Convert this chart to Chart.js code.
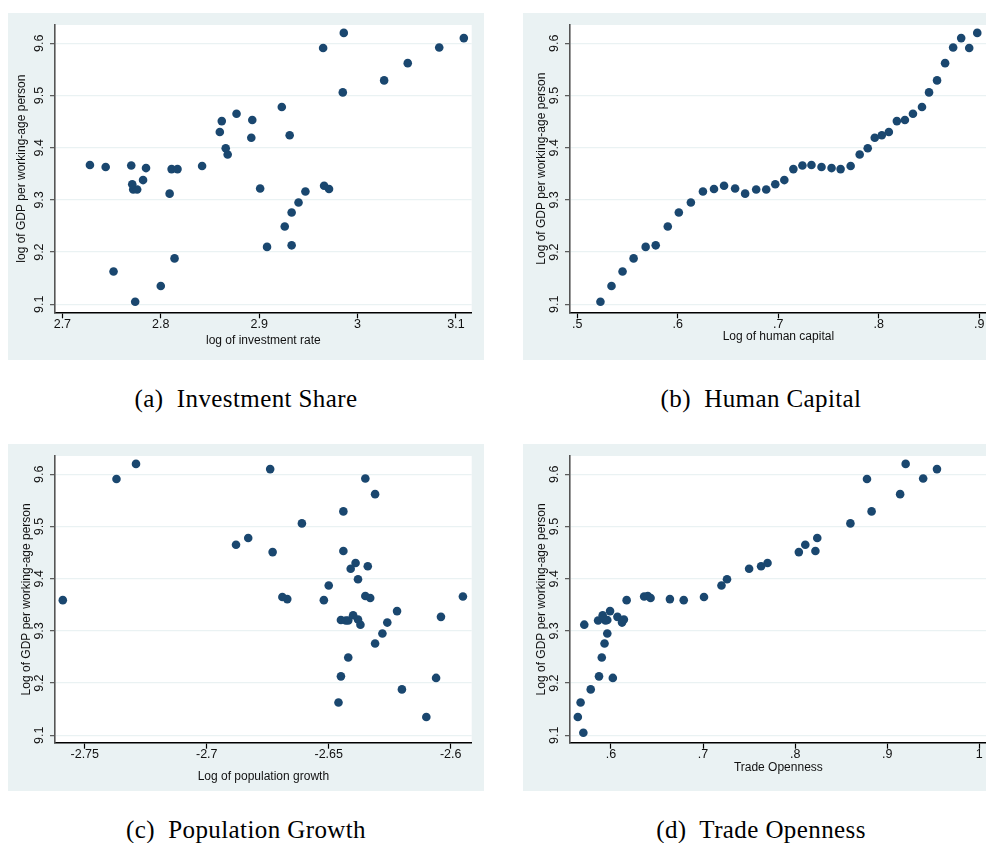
<!DOCTYPE html>
<html>
<head>
<meta charset="utf-8">
<title>GDP per working-age person</title>
<script src="https://cdn.jsdelivr.net/npm/chart.js@4.4.1/dist/chart.umd.min.js"></script>
<style>
    html, body {
        margin: 0;
        padding: 0;
        background: #ffffff;
        overflow: hidden;
    }
    #page {
        position: relative;
        width: 986px;
        height: 843px;
        overflow: hidden;
    }
    canvas {
        position: absolute;
    }
    .caption {
        position: absolute;
        width: 476px;
        text-align: center;
        font-family: 'Liberation Serif', 'Times New Roman', serif;
        font-size: 25px;
        line-height: 25px;
        letter-spacing: 0.4px;
        color: #000;
        white-space: pre;
    }
</style>
</head>
<body>
<div id="page">
    <canvas id="chartA" width="476" height="347" style="left:8px;top:13px"></canvas>
    <canvas id="chartB" width="476" height="347" style="left:523px;top:13px"></canvas>
    <canvas id="chartC" width="476" height="347" style="left:8px;top:444px"></canvas>
    <canvas id="chartD" width="476" height="347" style="left:523px;top:444px"></canvas>

    <div class="caption" style="left:8px;top:386px">(a)  Investment Share</div>
    <div class="caption" style="left:523px;top:386px">(b)  Human Capital</div>
    <div class="caption" style="left:8px;top:817px">(c)  Population Growth</div>
    <div class="caption" style="left:523px;top:817px">(d)  Trade Openness</div>
</div>

<script>
// ========================================
// Data (one point per year, same order in every panel)
// ========================================

// log of GDP per working-age person
const gdpLog = [9.105, 9.135, 9.163, 9.188, 9.210, 9.213, 9.249, 9.276, 9.295, 9.316,
    9.321, 9.327, 9.322, 9.312, 9.320, 9.320, 9.330, 9.338, 9.359, 9.366,
    9.367, 9.363, 9.361, 9.359, 9.365, 9.387, 9.399, 9.419, 9.424, 9.430,
    9.451, 9.453, 9.465, 9.478, 9.506, 9.529, 9.562, 9.592, 9.610, 9.591, 9.620];

// (a) log of investment rate
const investRate = [2.774, 2.800, 2.752, 2.814, 2.908, 2.933, 2.926, 2.933, 2.940, 2.947,
    2.971, 2.966, 2.901, 2.809, 2.772, 2.776, 2.771, 2.782, 2.811, 2.770,
    2.728, 2.744, 2.785, 2.817, 2.842, 2.868, 2.866, 2.892, 2.931, 2.860,
    2.862, 2.893, 2.877, 2.923, 2.985, 3.027, 3.051, 3.083, 3.108, 2.965, 2.986];

// (b) log of human capital
const humanCapital = [0.523, 0.534, 0.545, 0.556, 0.568, 0.578, 0.590, 0.601, 0.613, 0.625,
    0.636, 0.646, 0.657, 0.667, 0.678, 0.688, 0.697, 0.706, 0.715, 0.724,
    0.733, 0.743, 0.753, 0.762, 0.772, 0.781, 0.789, 0.796, 0.803, 0.810,
    0.818, 0.826, 0.834, 0.843, 0.850, 0.858, 0.866, 0.874, 0.882, 0.890, 0.898];

// (c) log of population growth (first year not shown)
const popGrowth = [null, -2.610, -2.646, -2.620, -2.606, -2.645, -2.642, -2.631, -2.628, -2.626,
    -2.645, -2.604, -2.638, -2.637, -2.643, -2.642, -2.640, -2.622, -2.652, -2.595,
    -2.635, -2.633, -2.667, -2.759, -2.669, -2.650, -2.638, -2.641, -2.634, -2.639,
    -2.673, -2.644, -2.688, -2.683, -2.661, -2.644, -2.631, -2.635, -2.674, -2.737, -2.729];

// (d) trade openness
const tradeOpen = [0.570, 0.564, 0.567, 0.578, 0.602, 0.587, 0.590, 0.593, 0.596, 0.612,
    0.596, 0.607, 0.614, 0.571, 0.594, 0.586, 0.591, 0.599, 0.617, 0.636,
    0.640, 0.643, 0.664, 0.679, 0.701, 0.720, 0.726, 0.750, 0.763, 0.770,
    0.804, 0.822, 0.811, 0.824, 0.860, 0.883, 0.914, 0.939, 0.954, 0.878, 0.920];

// Tick values and labels
const gdpTicks = [9.1, 9.2, 9.3, 9.4, 9.5, 9.6];
const gdpTickLabels = ['9.1', '9.2', '9.3', '9.4', '9.5', '9.6'];
const investTicks = [2.7, 2.8, 2.9, 3, 3.1];
const investTickLabels = ['2.7', '2.8', '2.9', '3', '3.1'];
const humanTicks = [0.5, 0.6, 0.7, 0.8, 0.9];
const humanTickLabels = ['.5', '.6', '.7', '.8', '.9'];
const popTicks = [-2.75, -2.7, -2.65, -2.6];
const popTickLabels = ['-2.75', '-2.7', '-2.65', '-2.6'];
const tradeTicks = [0.6, 0.7, 0.8, 0.9, 1];
const tradeTickLabels = ['.6', '.7', '.8', '.9', '1'];

// ========================================
// Look
// ========================================
const BG = '#eaf2f3';
const NAVY = '#1a476f';
const SANS = "'Liberation Sans', Arial, Helvetica, sans-serif";

Chart.defaults.font.family = SANS;
Chart.defaults.color = '#111';

// Stata-like panel: bluish-gray background, white plot region, rotated y labels
const stataLook = {
    id: 'stataLook',
    beforeDraw(chart) {
        const { ctx, chartArea } = chart;
        ctx.save();
        ctx.fillStyle = BG;
        ctx.fillRect(0, 0, chart.width, chart.height);
        ctx.fillStyle = '#ffffff';
        ctx.fillRect(chartArea.left, chartArea.top,
            chartArea.right - chartArea.left, chartArea.bottom - chartArea.top);
        ctx.restore();
    },
    afterDraw(chart) {
        const { ctx } = chart;
        const yScale = chart.scales.y;
        ctx.save();
        ctx.fillStyle = '#111';
        ctx.font = '12.5px ' + SANS;
        ctx.textAlign = 'center';
        ctx.textBaseline = 'middle';
        yScale.ticks.forEach((tick, i) => {
            ctx.save();
            ctx.translate(32, yScale.getPixelForValue(tick.value));
            ctx.rotate(-Math.PI / 2);
            ctx.fillText(gdpTickLabels[i], 0, 0);
            ctx.restore();
        });
        ctx.restore();
    }
};

function buildPanel(cfg) {
    const points = cfg.xs
        .map((x, i) => (x === null ? null : { x: x, y: gdpLog[i] }))
        .filter(p => p !== null);

    new Chart(document.getElementById(cfg.id), {
        type: 'scatter',
        data: {
            datasets: [{
                data: points,
                pointRadius: 4.3,
                pointBackgroundColor: NAVY,
                pointBorderWidth: 0,
                clip: false
            }]
        },
        options: {
            responsive: false,
            animation: false,
            events: [],
            layout: { padding: { top: 12, right: 12.3, left: 0, bottom: 0 } },
            plugins: {
                legend: { display: false },
                tooltip: { enabled: false }
            },
            scales: {
                x: {
                    type: 'linear',
                    min: cfg.xMin,
                    max: cfg.xMax,
                    afterBuildTicks: s => { s.ticks = cfg.xTicks.map(v => ({ value: v })); },
                    afterFit: s => { s.height = 347 - cfg.plotBottom; },
                    ticks: {
                        autoSkip: false,
                        maxRotation: 0,
                        padding: -0.5,
                        color: '#111',
                        font: { size: 12.5, lineHeight: 1 },
                        callback: (v, i) => cfg.xTickLabels[i]
                    },
                    grid: {
                        drawOnChartArea: false,
                        tickLength: 6,
                        tickColor: '#000',
                        tickWidth: 1.2
                    },
                    border: { color: '#000', width: 1.6 },
                    title: {
                        display: true,
                        text: cfg.xTitle,
                        color: '#111',
                        font: { size: 12, lineHeight: 1.2 },
                        padding: { top: 0, bottom: cfg.xTitlePad }
                    }
                },
                y: {
                    type: 'linear',
                    min: cfg.yMin,
                    max: cfg.yMax,
                    afterBuildTicks: s => { s.ticks = gdpTicks.map(v => ({ value: v })); },
                    afterFit: s => { s.width = 47; },
                    ticks: { display: false },
                    grid: {
                        color: BG,
                        lineWidth: 1.3,
                        tickLength: 5,
                        tickColor: '#555',
                        tickWidth: 1.2
                    },
                    border: { color: '#555', width: 1.6 },
                    title: {
                        display: true,
                        text: cfg.yTitle,
                        color: '#111',
                        font: { size: 12, lineHeight: 1.2 },
                        padding: { top: cfg.yTitlePad, bottom: 0 }
                    }
                }
            }
        },
        plugins: [stataLook]
    });
}

document.addEventListener('DOMContentLoaded', function () {
    buildPanel({
        id: 'chartA', xs: investRate, xTicks: investTicks, xTickLabels: investTickLabels,
        xMin: 2.6925, xMax: 3.116, yMin: 9.0847, yMax: 9.6351, plotBottom: 299.3,
        xTitle: 'log of investment rate', yTitle: 'log of GDP per working-age person',
        xTitlePad: 12, yTitlePad: 6.5
    });
    buildPanel({
        id: 'chartB', xs: humanCapital, xTicks: humanTicks, xTickLabels: humanTickLabels,
        xMin: 0.4927, xMax: 0.9074, yMin: 9.0847, yMax: 9.6351, plotBottom: 299.3,
        xTitle: 'Log of human capital', yTitle: 'Log of GDP per working-age person',
        xTitlePad: 16.3, yTitlePad: 11.2
    });
    buildPanel({
        id: 'chartC', xs: popGrowth, xTicks: popTicks, xTickLabels: popTickLabels,
        xMin: -2.7622, xMax: -2.5914, yMin: 9.0859, yMax: 9.6351, plotBottom: 298.7,
        xTitle: 'Log of population growth', yTitle: 'Log of GDP per working-age person',
        xTitlePad: 7.3, yTitlePad: 11.2
    });
    buildPanel({
        id: 'chartD', xs: tradeOpen, xTicks: tradeTicks, xTickLabels: tradeTickLabels,
        xMin: 0.5555, xMax: 1.008, yMin: 9.0859, yMax: 9.6351, plotBottom: 298.7,
        xTitle: 'Trade Openness', yTitle: 'Log of GDP per working-age person',
        xTitlePad: 16.5, yTitlePad: 11.2
    });
});
</script>
</body>
</html>
